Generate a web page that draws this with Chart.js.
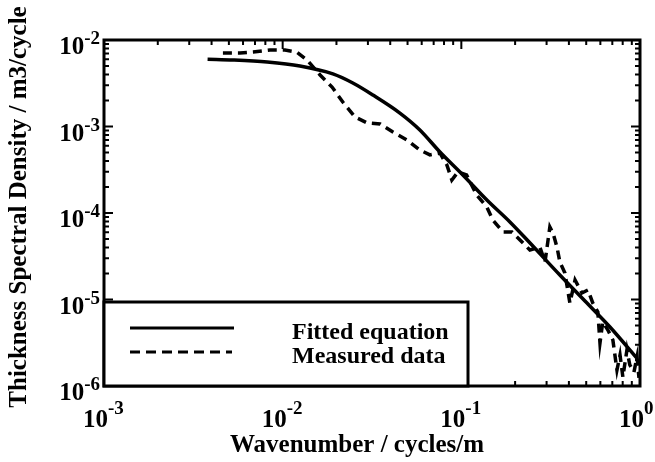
<!DOCTYPE html>
<html>
<head>
<meta charset="utf-8">
<script src="https://cdn.jsdelivr.net/npm/chart.js@4/dist/chart.umd.min.js"></script>
<style>
    html, body { margin: 0; padding: 0; background: #fff; }
    canvas { display: block; }
</style>
</head>
<body>
<canvas id="psdChart" width="655" height="462"></canvas>
<script>
// Data (log-log axes)
const fitWavenumber = [0.0038, 0.0053, 0.0082, 0.0125, 0.0191, 0.0247, 0.032, 0.0453, 0.0586, 0.0759,
    0.102, 0.139, 0.187, 0.233, 0.356, 0.492, 0.679, 0.96];
const fitDensity = [0.0060, 0.00588, 0.00557, 0.0050, 0.00405, 0.00318, 0.00231, 0.00143, 0.000912, 0.000507,
    0.000275, 0.000141, 7.87e-5, 4.9e-5, 1.92e-5, 9.6e-6, 4.81e-6, 2.1e-6];

const measWavenumber = [0.00463, 0.00577, 0.00683, 0.00849, 0.0103, 0.0120, 0.0137, 0.0162, 0.0189, 0.0217,
    0.0254, 0.0297, 0.0351, 0.0414, 0.0497, 0.0586, 0.0667, 0.0759, 0.0830, 0.0885,
    0.0957, 0.107, 0.122, 0.139, 0.150, 0.171, 0.192, 0.213, 0.242, 0.275,
    0.294, 0.313, 0.326, 0.343, 0.356, 0.380, 0.405, 0.433, 0.473, 0.511,
    0.544, 0.581, 0.597, 0.619, 0.661, 0.705, 0.743, 0.773, 0.802, 0.845,
    0.877, 0.925, 0.962, 0.987];
const measDensity = [0.00708, 0.00708, 0.00726, 0.00766, 0.00766, 0.00726, 0.00587, 0.00394, 0.00286, 0.00192,
    0.00129, 0.00110, 0.00107, 8.63e-4, 6.98e-4, 5.35e-4, 4.69e-4, 4.94e-4, 3.59e-4, 2.41e-4,
    2.98e-4, 2.75e-4, 1.61e-4, 1.17e-4, 8.3e-5, 6.03e-5, 6.03e-5, 4.88e-5, 3.73e-5, 4.04e-5,
    2.72e-5, 6.89e-5, 5.87e-5, 4.04e-5, 2.72e-5, 2.02e-5, 9.12e-6, 1.68e-5, 1.19e-5, 1.29e-5,
    9.12e-6, 7.16e-6, 3.14e-6, 5.50e-6, 4.44e-6, 3.40e-6, 1.53e-6, 2.28e-6, 1.27e-6, 2.61e-6,
    1.75e-6, 1.45e-6, 2.16e-6, 1.24e-6];

// Tick labels are powers of ten
const xTickExponents = [-3, -2, -1, 0];
const yTickExponents = [-6, -5, -4, -3, -2];

const seriesLabels = ['Fitted equation', 'Measured data'];
const xTitle = 'Wavenumber / cycles/m';
const yTitle = 'Thickness Spectral Density / m3/cycle';

const FONT = '"Liberation Serif", "Times New Roman", serif';

function toPoints(xs, ys) {
    return xs.map((x, i) => ({ x: x, y: ys[i] }));
}

// Draws the frame, inward ticks, power-of-ten labels, titles and the boxed legend
const decorPlugin = {
    id: 'decor',
    afterDraw(chart) {
        const ctx = chart.ctx;
        const area = chart.chartArea;
        const xs = chart.scales.x;
        const ys = chart.scales.y;

        ctx.save();
        ctx.strokeStyle = '#000';
        ctx.fillStyle = '#000';

        // inward tick marks on all four sides
        ctx.lineWidth = 2;
        for (let e = -3; e < 0; e++) {
            for (let m = 1; m <= 9; m++) {
                const px = xs.getPixelForValue(m * Math.pow(10, e));
                const len = m === 1 ? 9 : 5;
                ctx.beginPath();
                ctx.moveTo(px, area.bottom); ctx.lineTo(px, area.bottom - len);
                ctx.moveTo(px, area.top); ctx.lineTo(px, area.top + len);
                ctx.stroke();
            }
        }
        for (let e = -6; e < -2; e++) {
            for (let m = 1; m <= 9; m++) {
                const py = ys.getPixelForValue(m * Math.pow(10, e));
                const len = m === 1 ? 9 : 5;
                ctx.beginPath();
                ctx.moveTo(area.left, py); ctx.lineTo(area.left + len, py);
                ctx.moveTo(area.right, py); ctx.lineTo(area.right - len, py);
                ctx.stroke();
            }
        }

        // frame
        ctx.lineWidth = 3;
        ctx.strokeRect(area.left, area.top, area.right - area.left, area.bottom - area.top);

        // y tick labels
        ctx.textBaseline = 'alphabetic';
        yTickExponents.forEach(e => {
            const py = ys.getPixelForValue(Math.pow(10, e));
            ctx.font = 'bold 19px ' + FONT;
            const sup = String(e).replace('-', '\u2010');
            const supW = ctx.measureText(sup).width;
            ctx.textAlign = 'left';
            ctx.fillText(sup, area.left - 4 - supW, py + 4);
            ctx.font = 'bold 25px ' + FONT;
            ctx.textAlign = 'right';
            ctx.fillText('10', area.left - 4 - supW, py + 14);
        });

        // x tick labels
        xTickExponents.forEach(e => {
            const px = xs.getPixelForValue(Math.pow(10, e));
            ctx.font = 'bold 25px ' + FONT;
            ctx.textAlign = 'right';
            ctx.fillText('10', px + 4, 427);
            ctx.font = 'bold 19px ' + FONT;
            ctx.textAlign = 'left';
            ctx.fillText(String(e).replace('-', '\u2010'), px + 4, 414);
        });

        // axis titles
        ctx.font = 'bold 25px ' + FONT;
        ctx.textAlign = 'center';
        ctx.fillText(xTitle, 357, 452);
        ctx.save();
        ctx.translate(26, 207);
        ctx.rotate(-Math.PI / 2);
        ctx.font = 'bold 25px ' + FONT;
        ctx.fillText(yTitle, 0, 0);
        ctx.restore();

        // legend box
        const lx0 = area.left, lx1 = 468, ly0 = 302, ly1 = area.bottom;
        ctx.fillStyle = '#fff';
        ctx.fillRect(lx0, ly0, lx1 - lx0, ly1 - ly0);
        ctx.fillStyle = '#000';
        ctx.lineWidth = 3;
        ctx.strokeRect(lx0, ly0, lx1 - lx0, ly1 - ly0);

        ctx.lineWidth = 3;
        ctx.beginPath();
        ctx.moveTo(130, 328); ctx.lineTo(234, 328);
        ctx.stroke();
        ctx.setLineDash([10, 6]);
        ctx.beginPath();
        ctx.moveTo(130, 352); ctx.lineTo(232, 352);
        ctx.stroke();
        ctx.setLineDash([]);

        ctx.font = 'bold 24px ' + FONT;
        ctx.textAlign = 'left';
        ctx.fillText(seriesLabels[0], 292, 339);
        ctx.fillText(seriesLabels[1], 292, 363);

        ctx.restore();
    }
};

const ctx = document.getElementById('psdChart').getContext('2d');
new Chart(ctx, {
    type: 'line',
    data: {
        datasets: [{
            label: seriesLabels[0],
            data: toPoints(fitWavenumber, fitDensity),
            borderColor: '#000',
            borderWidth: 3.5,
            pointRadius: 0,
            cubicInterpolationMode: 'monotone',
            fill: false
        }, {
            label: seriesLabels[1],
            data: toPoints(measWavenumber, measDensity),
            borderColor: '#000',
            borderWidth: 3.5,
            borderDash: [9, 6],
            pointRadius: 0,
            tension: 0,
            fill: false
        }]
    },
    options: {
        responsive: false,
        animation: false,
        devicePixelRatio: 1,
        layout: { padding: { left: 0, top: 40, right: 15, bottom: 0 } },
        scales: {
            x: {
                type: 'logarithmic',
                min: 0.001,
                max: 1,
                ticks: { display: false },
                grid: { display: false },
                border: { display: false },
                afterFit: function(scale) { scale.height = 76; }
            },
            y: {
                type: 'logarithmic',
                min: 1e-6,
                max: 1e-2,
                ticks: { display: false },
                grid: { display: false },
                border: { display: false },
                afterFit: function(scale) { scale.width = 104; }
            }
        },
        plugins: {
            legend: { display: false },
            tooltip: { enabled: false }
        }
    },
    plugins: [decorPlugin]
});
</script>
</body>
</html>
